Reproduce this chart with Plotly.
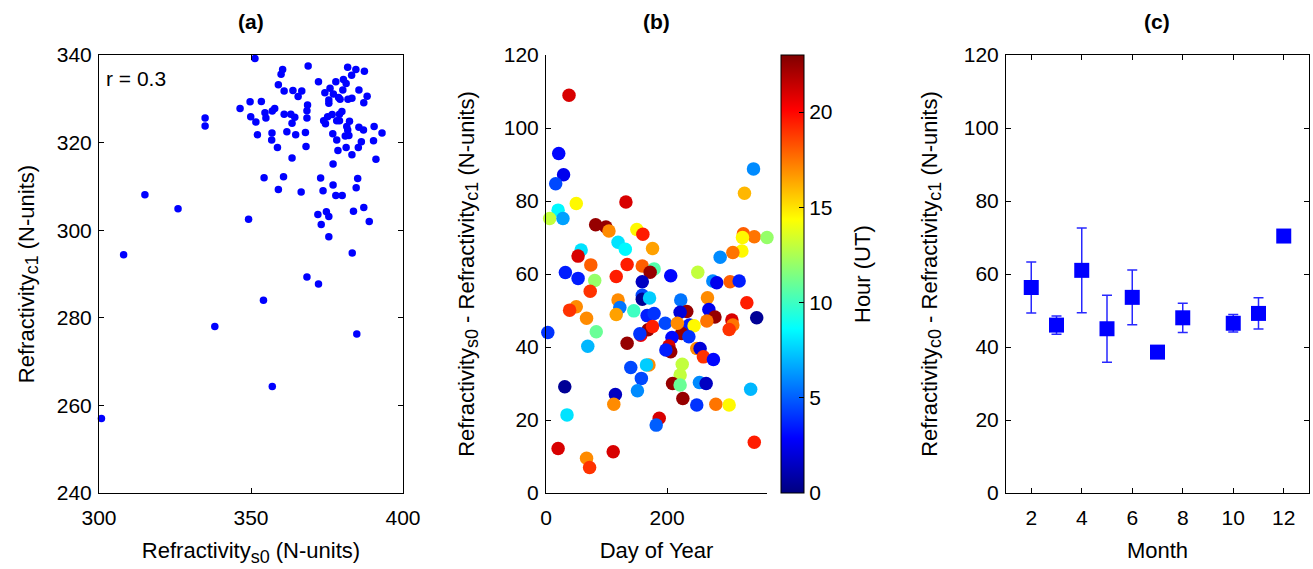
import plotly.graph_objects as go

# ---- (a) surface vs. layer-1 refractivity ----
a_s0 = [351.3, 360.4, 359.9, 368.8, 381.8, 384.5, 387.3, 383.1, 359.0, 372.2,
        377.9, 380.4, 381.3, 360.9, 363.8, 366.7, 365.5, 374.3, 376.0, 380.2,
        385.5, 377.1, 378.8, 379.3, 381.9, 383.2, 388.2, 387.1, 375.6, 375.6,
        349.7, 353.4, 346.4, 368.6, 368.4, 357.8, 357.0, 354.6, 349.9, 351.6,
        354.9, 360.9, 363.1, 364.4, 363.5, 368.4, 373.9, 374.5, 375.2, 376.7,
        379.1, 379.9, 378.2, 379.1, 382.4, 381.5, 381.8, 385.5, 387.0, 390.5,
        393.1, 352.1, 356.9, 356.8, 361.8, 364.7, 367.9, 376.9, 378.2, 381.0,
        382.2, 386.3, 390.3, 358.7, 368.1, 378.6, 381.3, 385.3, 383.2, 363.5,
        391.1, 377.0, 354.3, 360.7, 372.9, 385.1, 359.0, 366.5, 373.7, 377.0,
        377.9, 380.0, 384.6, 387.1, 383.7, 372.0, 374.8, 375.6, 373.1, 388.9,
        375.6, 315.1, 326.0, 349.2, 334.9, 334.9, 308.1, 383.3, 368.4, 372.2,
        354.1, 338.1, 384.8, 357.0, 300.8]
a_c1 = [339.2, 336.7, 335.6, 337.5, 337.2, 336.7, 336.3, 335.4, 333.2, 333.9,
        333.9, 334.4, 333.5, 331.8, 331.9, 331.8, 330.5, 331.4, 332.4, 332.0,
        332.0, 331.1, 330.3, 329.9, 329.9, 330.1, 330.6, 329.1, 329.7, 329.0,
        329.3, 329.4, 327.8, 328.6, 327.3, 327.8, 327.2, 326.8, 325.9, 324.7,
        325.6, 326.5, 326.5, 325.8, 324.4, 325.6, 325.0, 324.3, 325.9, 326.4,
        326.5, 327.1, 325.0, 325.0, 324.9, 323.7, 322.9, 323.5, 322.9, 323.7,
        322.2, 321.8, 322.2, 320.6, 322.5, 321.8, 322.3, 322.0, 320.6, 321.5,
        321.6, 320.2, 320.4, 318.9, 319.1, 318.2, 318.9, 318.9, 317.2, 316.5,
        316.2, 315.1, 312.0, 312.2, 311.9, 311.8, 309.3, 308.7, 309.0, 310.3,
        307.9, 307.9, 309.7, 305.2, 304.3, 303.6, 304.2, 303.1, 301.3, 302.0,
        298.5, 308.1, 304.9, 302.5, 325.6, 323.8, 294.4, 294.8, 289.3, 287.7,
        284.0, 278.0, 276.3, 264.3, 257.0]

# ---- (b) refractivity difference by day of year, coloured by hour ----
b_day = [38, 21, 29, 16, 50, 20, 6, 28, 132, 82,
         99, 104, 150, 160, 119, 131, 58, 53, 74, 134,
         159, 176, 178.5, 172, 32, 53, 80.5, 116, 73, 159,
         159, 159, 171, 119, 122, 116, 145, 50, 39, 67,
         83, 3, 69, 134, 156.5, 167, 178.5, 168.6, 176, 155,
         326, 344, 365, 324.5, 323.5, 308.6, 287.6, 250.7, 206, 275.5,
         282, 304, 319, 331.7, 348, 222.6, 266.7, 269, 279, 265.6,
         307, 308.6, 302.5, 232.5, 221.5, 197, 237, 244.6, 224, 236,
         208, 203, 206, 198, 249, 254.5, 260, 276.5, 225, 221.5,
         209, 221.5, 253.4, 264.5, 226, 249, 280.5, 302.5, 338, 187,
         182, 344, 140, 157.5, 170, 166, 151, 31, 114.6, 112,
         34.7, 20, 111, 67, 72, 217, 342.7, 327.8]
b_diff = [109.0, 93.0, 87.2, 84.7, 79.3, 77.5, 75.2, 75.2, 79.7, 73.5,
          72.9, 71.8, 72.2, 70.9, 68.7, 66.8, 66.6, 64.9, 62.5, 62.6,
          62.2, 67.0, 61.4, 60.5, 60.4, 58.8, 58.2, 59.3, 55.3, 57.9,
          54.2, 53.1, 53.4, 52.9, 50.8, 48.9, 49.9, 51.0, 50.1, 47.9,
          44.2, 44.0, 40.2, 41.0, 43.2, 48.6, 49.2, 44.7, 45.6, 43.6,
          71.0, 70.2, 70.0, 70.0, 66.3, 65.9, 64.6, 60.5, 59.5, 58.1,
          57.6, 57.9, 58.1, 52.1, 48.0, 52.9, 53.5, 50.3, 48.2, 47.1,
          47.4, 46.0, 44.8, 49.7, 49.5, 46.5, 46.0, 45.8, 43.7, 42.8,
          42.6, 40.3, 38.7, 39.2, 39.6, 39.6, 37.3, 36.6, 35.3, 32.3,
          30.0, 29.6, 30.3, 30.0, 25.9, 24.1, 24.3, 24.1, 28.4, 20.5,
          18.6, 13.9, 34.4, 31.4, 35.1, 35.1, 28.0, 29.1, 27.0, 24.3,
          21.4, 12.2, 11.3, 9.5, 7.0, 46.5, 88.8, 82.1]
b_hour = [21, 3, 2.5, 4.5, 14.5, 8.5, 13, 6.5, 21, 22.5,
          22.5, 17, 14.5, 19.5, 8, 8.5, 8, 21, 18, 19.5,
          18, 16.5, 10.5, 22.5, 3.5, 3.5, 12, 19.5, 19, 1.5,
          4.5, 0.5, 7.5, 17, 5.5, 16.5, 10, 17, 19, 17,
          11, 4, 7, 22.5, 20.5, 3.5, 4, 22.5, 19.5, 4,
          18, 17.5, 12, 14.5, 14.5, 17.5, 6, 13, 3, 6,
          2.5, 18, 3.5, 19.5, 0.5, 5.5, 17, 2.5, 22.5, 17.5,
          21, 17.5, 19, 22.5, 2, 4.5, 3.5, 14.5, 22.5, 4,
          3, 21, 22.5, 3.5, 17, 2, 19, 3, 13, 13,
          22.5, 11, 6, 1.5, 22.5, 4, 17.5, 14.5, 7, 21,
          5, 19.5, 4.5, 4.5, 17, 7.5, 6, 0.5, 1.5, 17,
          8, 21, 21, 17, 19, 17, 6, 16]

# ---- (c) monthly mean difference with spread ----
c_month = [2, 3, 4, 5, 6, 7, 8, 10, 11, 12]
c_mean = [56.3, 46.0, 61.0, 45.0, 53.6, 38.6, 48.0, 46.5, 49.2, 70.4]
c_err = [7.0, 2.5, 11.6, 9.2, 7.5, 0.0, 4.0, 2.4, 4.3, 0.0]

# MATLAB-style jet colormap
jet = [[0.0, "rgb(0,0,128)"], [0.125, "rgb(0,0,255)"], [0.375, "rgb(0,255,255)"],
       [0.625, "rgb(255,255,0)"], [0.875, "rgb(255,0,0)"], [1.0, "rgb(128,0,0)"]]

W, H = 1313, 569
FONT = "Liberation Sans, Arial, sans-serif"
TICKF = dict(family=FONT, size=21, color="black")
TITLEF = dict(family=FONT, size=22, color="black")


def px(x):
    return x / W


def sub(s):
    return "<sub><span style='font-size:18px'>%s</span></sub>" % s


y_dom = [1 - 493 / H, 1 - 55 / H]

fig = go.Figure()

fig.add_trace(go.Scatter(
    x=a_s0, y=a_c1, mode="markers", xaxis="x", yaxis="y",
    marker=dict(color="rgb(0,0,255)", size=7.5, line=dict(width=0)),
    cliponaxis=False, showlegend=False))

fig.add_trace(go.Scatter(
    x=b_day, y=b_diff, mode="markers", xaxis="x2", yaxis="y2",
    marker=dict(color=b_hour, colorscale=jet, cmin=0, cmax=23, size=13.5,
                opacity=1, line=dict(width=0),
                colorbar=dict(
                    x=px(781), xanchor="left", xpad=0,
                    y=y_dom[1], yanchor="top", ypad=0,
                    lenmode="pixels", len=438,
                    thicknessmode="pixels", thickness=23,
                    outlinewidth=1, outlinecolor="black",
                    ticks="inside", ticklen=5, tickcolor="black",
                    tickvals=[0, 5, 10, 15, 20], tickfont=TICKF)),
    cliponaxis=False, showlegend=False))

fig.add_trace(go.Scatter(
    x=c_month, y=c_mean, mode="markers", xaxis="x3", yaxis="y3",
    marker=dict(symbol="square", color="rgb(0,0,255)", size=15, line=dict(width=0)),
    error_y=dict(type="data", array=c_err, visible=True, color="rgb(40,40,255)",
                 thickness=1.5, width=5),
    showlegend=False))

common = dict(showgrid=False, zeroline=False, ticks="inside", ticklen=5,
              tickcolor="black", linecolor="black", linewidth=1, showline=True,
              tickfont=TICKF, title_font=TITLEF, automargin=False)
xcommon = dict(common, ticklabelstandoff=6)
ycommon = dict(common, ticklabelstandoff=2)

fig.update_layout(
    width=W, height=H, margin=dict(l=0, r=0, t=0, b=0, autoexpand=False),
    paper_bgcolor="white", plot_bgcolor="white",
    font=dict(family=FONT, color="black"),
    xaxis=dict(domain=[px(99), px(403)], anchor="y", range=[300, 400],
               tickvals=[300, 350, 400], mirror="ticks",
               title=dict(text="Refractivity" + sub("s0") + " (N-units)", standoff=14),
               **xcommon),
    yaxis=dict(domain=y_dom, anchor="x", range=[240, 340],
               tickvals=[240, 260, 280, 300, 320, 340], mirror="ticks",
               title=dict(text="Refractivity" + sub("c1") + " (N-units)", standoff=16),
               **ycommon),
    xaxis2=dict(domain=[px(546), px(767)], anchor="y2", range=[0, 365],
                tickvals=[0, 200],
                title=dict(text="Day of Year", standoff=14), **xcommon),
    yaxis2=dict(domain=y_dom, anchor="x2", range=[0, 120],
                tickvals=[0, 20, 40, 60, 80, 100, 120],
                title=dict(text="Refractivity" + sub("s0") + " - Refractivity" + sub("c1")
                           + " (N-units)", standoff=23), **ycommon),
    xaxis3=dict(domain=[px(1006), px(1309)], anchor="y3", range=[1, 13],
                tickvals=[2, 4, 6, 8, 10, 12], mirror="ticks",
                title=dict(text="Month", standoff=14), **xcommon),
    yaxis3=dict(domain=y_dom, anchor="x3", range=[0, 120],
                tickvals=[0, 20, 40, 60, 80, 100, 120], mirror="ticks",
                title=dict(text="Refractivity" + sub("c0") + " - Refractivity" + sub("c1")
                           + " (N-units)", standoff=20), **ycommon),
)

# colour bar label
fig.add_annotation(text="Hour (UT)", x=px(862), y=1 - 274 / H, xref="paper", yref="paper",
                   textangle=-90, showarrow=False, xanchor="center", yanchor="middle",
                   font=TITLEF)

# panel letters and correlation note
for label, xc in [("(a)", 251), ("(b)", 656), ("(c)", 1157)]:
    fig.add_annotation(text="<b>%s</b>" % label, x=px(xc), y=1 - 22 / H,
                       xref="paper", yref="paper", showarrow=False,
                       xanchor="center", yanchor="middle",
                       font=dict(family=FONT, size=21, color="black"))
fig.add_annotation(text="r = 0.3", x=px(104), y=1 - 78 / H, xref="paper", yref="paper",
                   xanchor="left", yanchor="middle", showarrow=False,
                   font=dict(family=FONT, size=21, color="black"))

fig.write_html("out.html")
